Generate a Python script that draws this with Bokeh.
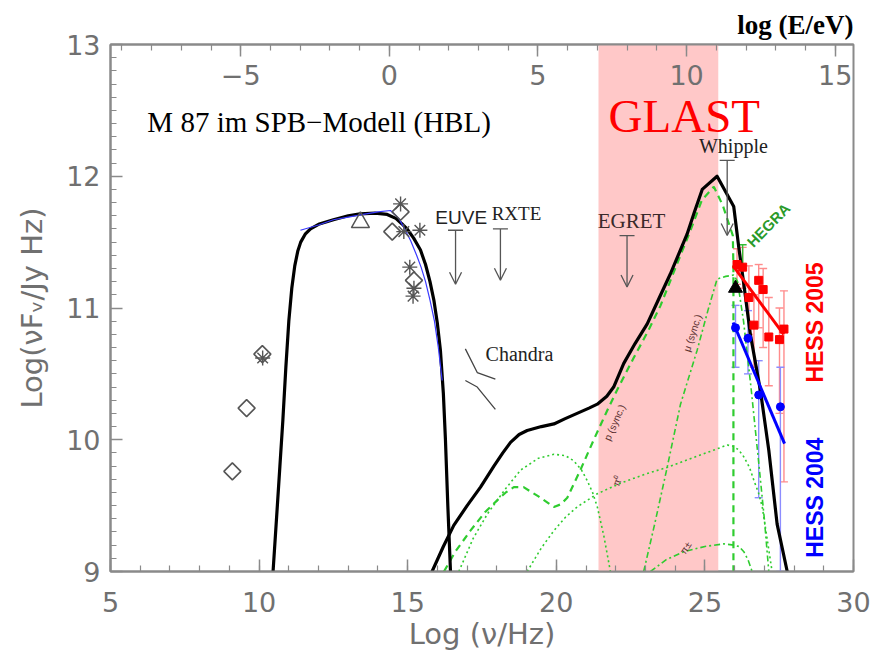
from math import pi

from bokeh.plotting import figure
from bokeh.models import (LinearAxis, Range1d, SingleIntervalTicker, ColumnDataSource,
                          Whisker, TeeHead, Arrow, OpenHead)
from bokeh.core.properties import value
from bokeh.embed import file_html
from bokeh.resources import INLINE

# log(h / eV): converts log(nu/Hz) into log(E/eV)
LOG_H_EV = -14.383

# ---- model curves: log(nu/Hz), log(nu F_nu / Jy Hz) ----
# electron synchrotron component
sync_x = [10.47, 10.60, 10.70, 10.80, 10.90, 11.00, 11.10, 11.20, 11.30, 11.40, 11.55, 11.73, 12.00, 12.50,
          13.00, 13.40, 13.90, 14.31, 14.60, 14.80, 14.98, 15.20, 15.43, 15.60, 15.75, 15.88, 16.00, 16.10,
          16.20, 16.27, 16.35, 16.44]
sync_y = [9.00, 9.45, 9.80, 10.15, 10.55, 10.90, 11.15, 11.32, 11.43, 11.50, 11.56, 11.60, 11.635, 11.67,
          11.70, 11.715, 11.72, 11.71, 11.68, 11.64, 11.60, 11.53, 11.44, 11.33, 11.20, 11.06, 10.88, 10.68,
          10.35, 10.00, 9.50, 9.00]

# power-law fit to the radio-optical data
fit_x = [11.39, 12.00, 12.50, 13.00, 13.50, 14.00, 14.42, 14.70, 14.90, 15.10, 15.30, 15.45, 15.60, 15.75, 15.90, 16.03, 16.16]
fit_y = [11.59, 11.63, 11.67, 11.69, 11.71, 11.73, 11.74, 11.68, 11.60, 11.51, 11.40, 11.31, 11.20, 11.06, 10.90, 10.70, 10.45]

# total hadronic high-energy component
had_x = [15.82, 16.20, 16.55, 17.00, 17.45, 17.90, 18.20, 18.46, 18.75, 19.02, 19.50, 19.92, 20.30, 20.70,
         21.10, 21.38, 21.70, 21.93, 22.27, 22.65, 23.06, 23.45, 23.84, 24.10, 24.40, 24.65, 24.91, 25.41,
         25.97, 26.14, 26.31, 26.53, 26.87, 27.15, 27.43, 27.77]
had_y = [9.00, 9.19, 9.35, 9.50, 9.64, 9.80, 9.90, 9.98, 10.04, 10.07, 10.10, 10.12, 10.16, 10.20,
         10.24, 10.27, 10.33, 10.40, 10.58, 10.73, 10.88, 11.07, 11.26, 11.40, 11.56, 11.73, 11.90, 12.00,
         11.77, 11.46, 11.18, 10.80, 10.37, 9.92, 9.36, 9.00]

# proton synchrotron (incl. cascade bump)
psyn_x = [16.22, 16.60, 17.11, 17.60, 18.01, 18.30, 18.57, 18.90, 19.40, 19.92, 20.15, 20.37, 20.81, 21.26,
          21.71, 22.05, 22.60, 23.10, 23.51, 24.00, 24.50, 24.90, 25.30, 25.60, 25.94, 25.96, 25.96]
psyn_y = [9.00, 9.15, 9.31, 9.45, 9.54, 9.60, 9.64, 9.64, 9.57, 9.49, 9.51, 9.56, 9.77, 10.00,
          10.22, 10.38, 10.62, 10.83, 11.02, 11.30, 11.58, 11.82, 11.92, 11.78, 11.55, 11.30, 9.00]

# cascade bump (dotted)
casc_x = [16.72, 17.20, 17.69, 18.30, 18.80, 19.40, 19.92, 20.30, 20.59, 20.85, 21.04, 21.22, 21.38, 21.60, 21.82]
casc_y = [9.00, 9.25, 9.44, 9.63, 9.77, 9.86, 9.89, 9.88, 9.84, 9.77, 9.69, 9.60, 9.49, 9.27, 9.00]

# neutral pion cascade (dotted)
pi0_x = [19.02, 19.50, 19.92, 20.30, 20.70, 21.38, 22.16, 23.00, 23.73, 24.80, 25.40, 25.75, 25.97, 26.15,
         26.31, 26.50, 26.65, 26.80, 26.93, 27.10, 27.26]
pi0_y = [9.00, 9.18, 9.31, 9.41, 9.49, 9.59, 9.67, 9.74, 9.79, 9.88, 9.93, 9.96, 9.95, 9.92,
         9.87, 9.79, 9.69, 9.60, 9.49, 9.24, 9.00]

# charged pion cascade (dash-dot)
pic_x = [23.17, 23.70, 24.29, 25.00, 25.64, 25.97, 26.15, 26.31, 26.45, 26.59]
pic_y = [9.00, 9.09, 9.15, 9.19, 9.21, 9.20, 9.19, 9.15, 9.09, 9.00]

# muon synchrotron (dash-dot)
mu_x = [22.94, 23.30, 23.73, 24.18, 24.74, 25.10, 25.41, 25.70, 25.97, 26.10, 26.30, 26.55, 26.80, 27.00, 27.15]
mu_y = [9.00, 9.35, 9.79, 10.27, 10.68, 10.98, 11.22, 11.24, 11.25, 11.20, 10.90, 10.40, 9.85, 9.40, 9.00]

# ---- archival data (grey open symbols) ----
dia_x = [9.10, 9.58, 10.11, 14.48, 14.76, 15.21]
dia_y = [9.76, 10.24, 10.65, 11.58, 11.73, 11.21]
ast_x = [10.12, 14.76, 14.87, 15.41, 15.07, 15.21, 15.18]
ast_y = [10.62, 11.79, 11.58, 11.59, 11.31, 11.15, 11.09]
tri_x = [13.41]
tri_y = [11.65]

# upper limits: EUVE, RXTE, EGRET, Whipple
ul_x = [16.61, 18.12, 22.38, 25.75]
ul_top = [11.59, 11.60, 11.55, 12.12]
ul_tip = [11.18, 11.21, 11.16, 11.55]

# Chandra bow-tie
chandra_xs = [[16.94, 17.34, 17.95], [16.94, 17.34, 17.95]]
chandra_ys = [[10.69, 10.51, 10.46], [10.45, 10.40, 10.23]]

# HESS 2005
h05_x = [26.08, 26.27, 26.48, 26.65, 26.81, 26.96, 27.15, 27.51, 27.66]
h05_y = [11.33, 11.31, 11.08, 10.87, 11.21, 11.14, 10.78, 10.76, 10.84]
h05_lo = [11.18, 11.15, 10.80, 10.55, 10.85, 10.70, 10.41, 10.20, 9.68]
h05_hi = [11.45, 11.46, 11.32, 11.10, 11.33, 11.30, 11.08, 11.00, 11.13]
h05_fit_x = [25.95, 27.65]
h05_fit_y = [11.32, 10.80]

# HESS 2004
h04_x = [26.03, 26.45, 26.81, 27.54]
h04_y = [10.85, 10.77, 10.34, 10.25]
h04_lo = [10.55, 10.50, 9.56, 9.00]
h04_hi = [11.02, 10.98, 10.60, 10.55]
h04_fit_x = [25.95, 27.68]
h04_fit_y = [10.89, 9.97]

# HEGRA
hegra_x = [26.27]
hegra_y = [11.40]
hegra_lo = [11.30]
hegra_hi = [11.48]

# additional TeV point
tev_x = [26.03]
tev_y = [11.15]

# GLAST energy band
glast_lo = [21.42]
glast_hi = [25.45]

GREEN = "#2fcc2f"
GREY = "#555555"
AXIS = "#8a8a8a"
TICKFONT = "DejaVu Sans"

p = figure(width=881, height=661, x_range=Range1d(5, 30), y_range=Range1d(9, 13),
           output_backend="svg", toolbar_location=None,
           min_border_left=110, min_border_right=28, min_border_top=44, min_border_bottom=90,
           background_fill_color="white", border_fill_color="white")
p.grid.visible = False
p.outline_line_color = AXIS
p.outline_line_width = 2

p.title.text = "log (E/eV)"
p.title.align = "right"
p.title.text_font = "Liberation Serif"
p.title.text_font_size = "27px"
p.title.text_font_style = "bold"
p.title.text_color = "black"

# GLAST band
p.quad(left=glast_lo, right=glast_hi, bottom=9, top=13, fill_color="#ffc8c8", line_color=None)

# axes
bottom = p.below[0]
left = p.left[0]
bottom.ticker = SingleIntervalTicker(interval=5, num_minor_ticks=5)
left.ticker = SingleIntervalTicker(interval=1, num_minor_ticks=10)
bottom.axis_label = "Log (ν/Hz)"
left.axis_label = "Log(νFᵥ/Jy Hz)"

p.extra_x_ranges = {"E": Range1d(5 + LOG_H_EV, 30 + LOG_H_EV)}
top = LinearAxis(x_range_name="E", ticker=SingleIntervalTicker(interval=5, num_minor_ticks=5))
top.major_label_overrides = {-5: "−5"}
p.add_layout(top, "above")

for ax in (bottom, left, top):
    ax.axis_line_color = AXIS
    ax.axis_line_width = 2
    ax.major_tick_in = 12
    ax.major_tick_out = 0
    ax.minor_tick_in = 6
    ax.minor_tick_out = 0
    ax.major_tick_line_color = AXIS
    ax.minor_tick_line_color = AXIS
    ax.major_tick_line_width = 1.5
    ax.minor_tick_line_width = 1.2
    ax.major_label_text_font = TICKFONT
    ax.major_label_text_font_size = "27px"
    ax.major_label_text_color = "#707070"
    ax.axis_label_text_font = TICKFONT
    ax.axis_label_text_font_size = "29px"
    ax.axis_label_text_font_style = "normal"
    ax.axis_label_text_color = "#707070"

bottom.major_label_standoff = 20
bottom.axis_label_standoff = 2
left.major_label_standoff = 10
left.axis_label_standoff = 14
top.major_label_standoff = -40

# model curves
p.line(casc_x, casc_y, line_color=GREEN, line_width=1.6, line_dash="2 3")
p.line(pi0_x, pi0_y, line_color=GREEN, line_width=1.6, line_dash="2 3")
p.line(pic_x, pic_y, line_color=GREEN, line_width=1.6, line_dash="6 3 2 3")
p.line(mu_x, mu_y, line_color=GREEN, line_width=1.6, line_dash="6 3 2 3")
p.line(psyn_x, psyn_y, line_color=GREEN, line_width=2.2, line_dash="7 5")
p.line(had_x, had_y, line_color="black", line_width=3.2, line_join="round")
p.line(sync_x, sync_y, line_color="black", line_width=3.2, line_join="round")
p.line(fit_x, fit_y, line_color="#3a3aff", line_width=1.2)

# archival data
p.scatter(dia_x, dia_y, marker="square", angle=pi / 4, size=12, fill_color=None, line_color=GREY, line_width=1.6)
p.scatter(ast_x, ast_y, marker="asterisk", size=15, line_color=GREY, line_width=1.4)
p.scatter(tri_x, tri_y, marker="triangle", size=18, fill_color=None, line_color=GREY, line_width=1.5)

# Chandra bow-tie
p.multi_line(chandra_xs, chandra_ys, line_color="#444444", line_width=1.3)

# upper limits
ul_src = ColumnDataSource(dict(x=ul_x, top=ul_top, tip=ul_tip))
p.add_layout(Arrow(end=OpenHead(size=12, line_color=GREY, line_width=1.3), source=ul_src,
                   x_start="x", y_start="top", x_end="x", y_end="tip",
                   line_color=GREY, line_width=1.3))
p.scatter(ul_x, ul_top, marker="dash", size=15, line_color=GREY, line_width=1.3)

# HESS 2005
h05_src = ColumnDataSource(dict(x=h05_x, y=h05_y, lo=h05_lo, hi=h05_hi))
p.add_layout(Whisker(source=h05_src, base="x", lower="lo", upper="hi", line_color="#ff8c8c", line_width=1.4,
                     upper_head=TeeHead(size=8, line_color="#ff8c8c", line_width=1.4),
                     lower_head=TeeHead(size=8, line_color="#ff8c8c", line_width=1.4)))
p.scatter("x", "y", source=h05_src, marker="square", size=8, fill_color="red", line_color="red")
p.line(h05_fit_x, h05_fit_y, line_color="red", line_width=3)

# HESS 2004
h04_src = ColumnDataSource(dict(x=h04_x, y=h04_y, lo=h04_lo, hi=h04_hi))
p.add_layout(Whisker(source=h04_src, base="x", lower="lo", upper="hi", line_color="#8c8cff", line_width=1.4,
                     upper_head=TeeHead(size=8, line_color="#8c8cff", line_width=1.4),
                     lower_head=TeeHead(size=8, line_color="#8c8cff", line_width=1.4)))
p.scatter("x", "y", source=h04_src, marker="circle", size=8, fill_color="blue", line_color="blue")
p.line(h04_fit_x, h04_fit_y, line_color="blue", line_width=3)

# HEGRA
hg_src = ColumnDataSource(dict(x=hegra_x, y=hegra_y, lo=hegra_lo, hi=hegra_hi))
p.add_layout(Whisker(source=hg_src, base="x", lower="lo", upper="hi", line_color="#33bb33", line_width=1.4,
                     upper_head=TeeHead(size=8, line_color="#33bb33", line_width=1.4),
                     lower_head=TeeHead(size=8, line_color="#33bb33", line_width=1.4)))

p.scatter(tev_x, tev_y, marker="triangle", size=14, fill_color="black", line_color="black")

# labels
serif = value("Liberation Serif")
sans = value("Liberation Sans")
p.text(x=[6.24], y=[12.41], text=["M 87 im SPB−Modell (HBL)"], text_font=serif, text_font_size="29px",
       text_baseline="middle", text_color="black")
p.text(x=[21.76], y=[12.46], text=["GLAST"], text_font=serif, text_font_size="47px",
       text_baseline="alphabetic", text_color="red")
p.text(x=[25.96], y=[12.23], text=["Whipple"], text_font=serif, text_font_size="20px",
       text_align="center", text_baseline="middle", text_color="#222222")
p.text(x=[22.53], y=[11.66], text=["EGRET"], text_font=serif, text_font_size="21px",
       text_align="center", text_baseline="middle", text_color="#3a2a2a")
p.text(x=[16.80], y=[11.69], text=["EUVE"], text_font=sans, text_font_size="19px",
       text_align="center", text_baseline="middle", text_color="#222222")
p.text(x=[18.66], y=[11.72], text=["RXTE"], text_font=serif, text_font_size="19px",
       text_align="center", text_baseline="middle", text_color="#222222")
p.text(x=[17.62], y=[10.65], text=["Chandra"], text_font=serif, text_font_size="20px",
       text_baseline="middle", text_color="#222222")

p.text(x=[28.72], y=[10.89], text=["HESS 2005"], text_font=sans, text_font_size="23px", text_font_style="bold",
       angle=pi / 2, text_align="center", text_baseline="middle", text_color="red")
p.text(x=[28.72], y=[9.56], text=["HESS 2004"], text_font=sans, text_font_size="23px", text_font_style="bold",
       angle=pi / 2, text_align="center", text_baseline="middle", text_color="blue")
p.text(x=[27.14], y=[11.63], text=["HEGRA"], text_font=sans, text_font_size="15px", text_font_style="bold",
       angle=0.8, text_align="center", text_baseline="middle", text_color="#2a9a2a")

small = dict(text_font=sans, text_font_size="10px", text_align="center", text_baseline="middle",
             text_color="#5a3030")
p.text(x=[21.96], y=[10.13], text=["p (sync.)"], angle=1.15, **small)
p.text(x=[24.58], y=[10.81], text=["μ (sync.)"], angle=1.25, **small)
p.text(x=[22.06], y=[9.69], text=["π⁰"], angle=1.2, **small)
p.text(x=[24.35], y=[9.18], text=["π±"], angle=1.0, **small)

open("out.html", "w").write(file_html(p, INLINE))
